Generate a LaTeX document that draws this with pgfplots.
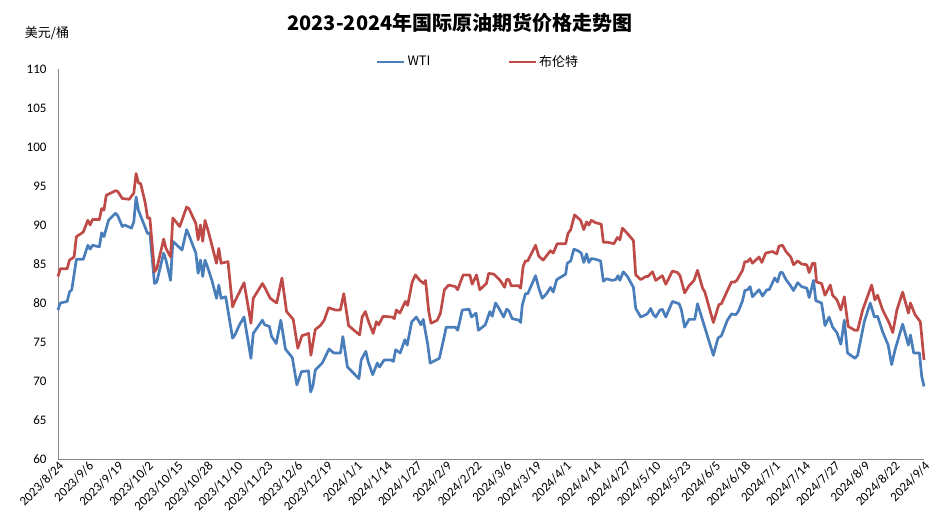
\documentclass[border=0pt]{standalone}
\usepackage{pgfplots}
\pgfplotsset{compat=1.18}
\usepackage{pgfplotstable}
\usepackage{fontspec}
\setmainfont{Carlito}
\newfontfamily\cjk{Noto Sans CJK SC}
\definecolor{wtiblue}{HTML}{4A7EBB}
\definecolor{brentred}{HTML}{BE4B48}
\definecolor{axgray}{HTML}{868686}

\pgfplotstableread{
d v
0 79.1
1 80.0
4 80.2
5 81.4
6 81.7
8 85.6
11 85.6
13 87.4
14 86.9
15 87.4
18 87.2
19 89.0
20 88.5
22 90.6
25 91.5
26 91.2
28 89.8
29 90.0
32 89.6
33 90.4
34 93.6
35 91.9
39 88.9
40 89.0
42 82.5
43 82.7
46 86.4
47 85.5
49 82.9
50 87.9
54 86.8
56 89.4
57 88.7
60 86.4
61 83.8
62 85.5
63 83.4
64 85.5
65 84.7
67 82.9
69 80.6
70 82.3
71 80.6
73 80.8
76 75.5
77 75.9
79 77.2
81 78.2
84 72.9
85 76.1
89 77.8
90 77.2
92 77.0
93 75.7
95 74.8
97 77.8
99 74.1
102 73.0
104 69.5
106 71.2
109 71.3
110 68.6
111 69.4
112 71.4
115 72.3
118 74.1
120 73.6
123 73.6
124 75.7
126 71.8
131 70.3
132 72.7
134 73.8
135 72.5
137 70.8
139 72.3
140 71.8
142 72.7
145 72.7
146 72.5
147 74.0
149 73.6
151 75.3
152 74.6
154 77.6
156 78.2
158 77.2
159 77.9
161 74.6
162 72.3
164 72.6
166 72.9
168 75.5
169 76.9
173 76.9
174 76.5
176 79.1
179 79.2
180 78.2
182 78.7
183 76.5
186 77.2
188 78.9
189 78.3
190.5 80.0
192 79.3
194 78.2
195.3 79.2
196.3 79.0
197.7 78.0
200.6 77.8
201.4 77.5
202.1 79.7
203.5 81.2
204.5 81.2
207.9 83.5
209.3 81.9
210.8 80.6
212.7 81.2
214.4 82.0
215.6 81.4
217.1 83.0
218.8 83.3
221.0 83.7
221.7 85.1
223.2 85.4
224.6 86.9
226.3 86.7
227.8 86.4
228.9 85.2
230.1 86.3
231.1 85.2
232.2 85.7
234.0 85.6
236.2 85.4
237.4 82.8
238.8 83.1
241.3 82.9
242.8 83.0
243.8 83.5
244.6 82.9
246.1 84.0
247.9 83.4
250.5 82.0
251.5 79.3
253.7 78.2
255.9 78.5
256.8 78.7
258.0 79.3
259.2 78.5
260.2 78.2
262.1 79.1
263.1 79.2
264.6 78.2
267.5 80.2
270.4 79.9
271.4 79.1
272.8 76.9
274.7 77.9
277.2 77.9
278.4 79.9
280.6 77.8
285.3 73.3
287.3 75.5
288.8 75.8
291.4 77.8
293.2 78.6
295.1 78.5
296.1 78.9
298.0 80.3
299.0 81.6
300.2 81.7
301.3 82.1
302.3 80.8
305.2 81.7
306.7 80.9
308.6 81.7
309.6 81.7
312.0 83.2
313.2 82.7
314.4 83.9
315.4 83.9
316.9 83.0
318.7 82.3
320.2 81.6
322.0 82.6
323.7 82.1
326.0 81.9
327.0 80.7
328.9 82.9
329.9 80.3
332.4 80.0
333.9 77.1
335.7 78.2
337.2 76.9
339.1 76.2
340.8 74.7
342.3 77.8
343.7 73.6
346.9 72.9
348.1 73.3
351.0 77.6
353.6 80.0
355.4 78.2
356.8 78.3
359.0 76.3
361.4 74.6
362.9 72.1
364.4 74.0
367.7 77.3
370.2 74.6
371.1 75.9
372.5 73.6
375.0 73.6
376.0 70.6
377 69.3
}\wti

\pgfplotstableread{
d v
0 83.4
1 84.4
4 84.4
5 85.5
7 85.9
8 88.5
11 89.1
13 90.6
14 90.0
15 90.7
18 90.7
19 92.1
20 91.9
21 93.8
25 94.4
26 94.3
28 93.4
31 93.3
33 94.1
34 96.6
35 95.4
36 95.3
38 92.8
39 90.9
40 90.9
42 84.0
43 84.4
46 88.2
47 87.0
49 85.9
50 90.9
53 89.8
56 92.3
57 92.1
60 90.2
61 88.1
62 90.0
63 87.9
64 90.6
65.5 89.1
67 87.4
69 85.1
70 87.0
71 85.1
74 85.3
76 79.5
77 80.2
79 81.4
81 82.6
84 77.4
85 80.6
89 82.5
90 82.0
92.4 80.6
95.2 80.0
97.5 83.2
99.5 78.9
102.4 77.9
104.4 74.2
106.2 75.8
109.1 76.1
110.1 73.3
112.0 76.6
114.2 77.1
115.9 77.8
117.8 79.4
120.7 79.1
122.9 79.1
124.4 81.2
126.5 77.1
131.3 75.9
132.4 78.2
133.8 78.9
135.2 77.6
137.2 76.1
138.6 77.6
139.6 77.2
141.5 78.3
145.4 78.2
146.4 78.0
147.3 79.1
148.8 78.7
151.2 80.2
152.2 79.7
154.2 82.7
155.6 83.6
157.5 82.9
159.2 82.5
160.0 82.9
161.4 78.9
162.4 77.4
165.1 77.8
166.5 78.7
168.2 81.7
170.1 82.3
173.0 82.1
174.0 81.7
175.2 82.7
176.4 83.6
179.3 83.6
180.3 82.4
182.2 83.6
183.6 81.7
186.5 82.5
187.5 83.8
189.7 83.7
192.2 83.0
193.4 82.5
194.4 82.0
195.3 83.0
196.3 83.0
197.3 82.2
200.6 82.2
201.4 81.9
202.5 84.7
203.5 85.4
204.5 85.4
207.9 87.4
209.3 86.0
211.2 85.5
214.4 86.7
215.6 86.4
217.3 87.6
221.0 87.6
222.0 88.9
223.2 89.4
224.9 91.3
227.5 90.6
228.9 89.4
230.1 90.4
231.1 90.0
232.2 90.6
234.0 90.3
236.5 90.1
237.4 87.8
239.1 87.8
242.0 87.6
243.5 88.4
244.6 88.1
245.7 89.6
247.9 88.9
250.5 88.0
251.5 83.6
253.7 83.0
255.9 83.4
256.8 83.4
258.8 84.0
260.2 82.9
263.1 83.5
264.6 82.4
267.5 84.1
269.7 83.9
270.8 83.5
272.8 81.3
274.7 82.2
276.9 82.9
278.4 84.2
280.6 81.9
281.6 81.4
285.3 77.5
287.7 79.8
288.8 79.9
291.1 81.4
293.2 82.7
294.6 82.7
295.5 82.9
298.0 84.2
299.0 85.3
300.2 85.3
301.3 85.7
302.3 85.1
305.2 85.9
306.4 85.2
308.1 86.4
311.0 86.6
312.9 86.3
313.9 87.3
315.4 87.4
316.9 86.6
319.0 85.9
320.2 84.9
322.0 85.4
323.7 85.0
326.0 84.9
327.0 83.9
328.5 85.1
329.5 85.1
330.2 82.7
332.4 82.5
333.9 81.0
336.2 82.3
337.2 81.0
339.1 80.4
340.8 79.1
342.3 80.8
344.0 77.0
346.9 76.5
348.1 76.5
350.3 79.1
354.2 82.3
355.6 80.4
356.8 81.0
359.0 79.1
361.9 77.4
363.4 76.2
365.2 79.1
367.7 81.4
370.2 78.7
371.1 80.0
373.1 78.5
375.4 77.6
377 72.7
}\brent

\begin{document}
\begin{tikzpicture}[x=1pt,y=1pt]
\useasboundingbox (0,0) rectangle (945,527);
\node[font=\cjk\bfseries\fontsize{20}{20}\selectfont] at (460,504) {2023-2024年国际原油期货价格走势图};
\node[font=\cjk\fontsize{13}{13}\selectfont] at (47,494) {美元/桶};
\begin{axis}[
  at={(58pt,68pt)}, anchor=south west,
  scale only axis, width=866pt, height=390pt,
  xmin=0, xmax=377, ymin=60, ymax=110,
  axis lines=left,
  axis line style={-, draw=axgray, line width=0.8pt},
  major tick length=0pt,
  ytick={60,65,...,110},
  xtick={0,13,...,377},
  xticklabels={2023/8/24,2023/9/6,2023/9/19,2023/10/2,2023/10/15,2023/10/28,2023/11/10,2023/11/23,2023/12/6,2023/12/19,2024/1/1,2024/1/14,2024/1/27,2024/2/9,2024/2/22,2024/3/6,2024/3/19,2024/4/1,2024/4/14,2024/4/27,2024/5/10,2024/5/23,2024/6/5,2024/6/18,2024/7/1,2024/7/14,2024/7/27,2024/8/9,2024/8/22,2024/9/4},
  xticklabel style={rotate=45, anchor=east, font=\fontsize{13}{13}\selectfont, inner sep=1pt, yshift=-6pt},
  yticklabel style={font=\fontsize{13}{13}\selectfont, xshift=-8pt},
  /pgf/number format/assume math mode=true,
  legend columns=2,
  legend style={at={(0.485,1.018)}, anchor=center, draw=none, fill=none,
    font=\cjk\fontsize{13}{13}\selectfont,
    /tikz/every even column/.append style={column sep=75pt}},
  legend image code/.code={\draw[#1] (0pt,0pt) -- (27pt,0pt);},
  clip=false,
]
\addplot[wtiblue, line width=2.7pt, line join=round] table[x=d,y=v] {\wti};
\addlegendentry{WTI}
\addplot[brentred, line width=2.7pt, line join=round] table[x=d,y=v] {\brent};
\addlegendentry{布伦特}
\end{axis}
\end{tikzpicture}
\end{document}
